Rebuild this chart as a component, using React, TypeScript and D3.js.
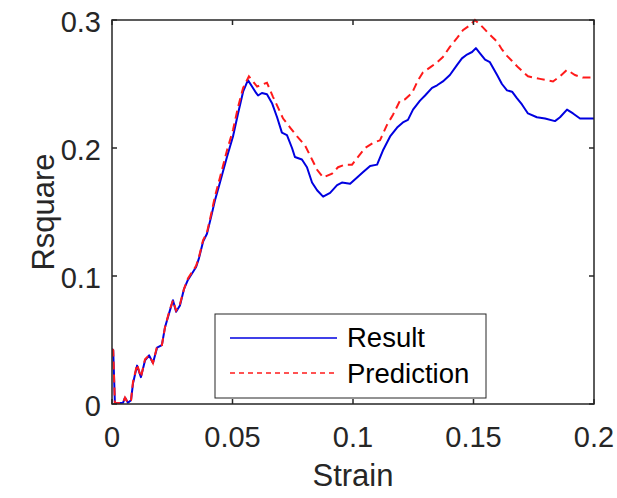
import React from "react";
import * as d3 from "d3";

const xTicks = [0, 0.05, 0.1, 0.15, 0.2];
const yTicks = [0, 0.1, 0.2, 0.3];
const xTickLabels = ["0", "0.05", "0.1", "0.15", "0.2"];
const yTickLabels = ["0", "0.1", "0.2", "0.3"];
const seriesNames = ["Result", "Prediction"];

const resultStrain = [
  0, 0.0005, 0.0012, 0.0046, 0.0054, 0.0066, 0.0079, 0.0087, 0.0104, 0.012, 0.0137, 0.0154, 0.017, 0.0187,
  0.0207, 0.022, 0.0237, 0.0253, 0.0266, 0.0282, 0.0299, 0.0315, 0.0332, 0.0349, 0.0361, 0.0378, 0.0394,
  0.0411, 0.0427, 0.0448, 0.0477, 0.0502, 0.0523, 0.0544, 0.0564, 0.0581, 0.0598, 0.0606, 0.0622, 0.0643,
  0.0664, 0.0685, 0.0705, 0.0726, 0.0747, 0.0759, 0.0788, 0.0809, 0.083, 0.0851, 0.0876, 0.0905, 0.0934,
  0.0954, 0.0988, 0.1017, 0.1041, 0.1071, 0.11, 0.1124, 0.1154, 0.1183, 0.1207, 0.1228, 0.1249, 0.1278,
  0.1299, 0.1328, 0.1349, 0.1373, 0.1402, 0.1432, 0.1452, 0.1473, 0.1494, 0.151, 0.1527, 0.1548, 0.1568,
  0.1598, 0.1618, 0.1639, 0.166, 0.168, 0.1701, 0.1726, 0.1763, 0.1797, 0.1838, 0.1859, 0.1888, 0.1913,
  0.1942, 0.1975, 0.2,
];
const resultValues = [
  0.043, 0.042, 0.0005, 0.001, 0.005, 0.001, 0.003, 0.016, 0.03, 0.021, 0.034, 0.038, 0.032, 0.044,
  0.046, 0.06, 0.071, 0.081, 0.072, 0.077, 0.09, 0.097, 0.102, 0.107, 0.114, 0.127, 0.133,
  0.146, 0.159, 0.173, 0.193, 0.209, 0.227, 0.244, 0.253, 0.248, 0.243, 0.241, 0.243, 0.242,
  0.235, 0.224, 0.212, 0.21, 0.2, 0.193, 0.191, 0.185, 0.173, 0.167, 0.162, 0.165, 0.171,
  0.173, 0.172, 0.177, 0.181, 0.186, 0.187, 0.198, 0.209, 0.216, 0.22, 0.222, 0.23, 0.237,
  0.241, 0.247, 0.249, 0.252, 0.257, 0.265, 0.27, 0.273, 0.275, 0.278, 0.274, 0.269, 0.267,
  0.257, 0.25, 0.245, 0.244, 0.239, 0.234, 0.227, 0.224, 0.223, 0.221, 0.224, 0.23, 0.227,
  0.223, 0.223, 0.223,
];

const predStrain = [
  0, 0.0005, 0.0012, 0.0046, 0.0054, 0.0066, 0.0079, 0.0087, 0.0104, 0.012, 0.0137, 0.0154, 0.017, 0.0187,
  0.0207, 0.022, 0.0237, 0.0253, 0.0266, 0.0282, 0.0299, 0.0315, 0.0332, 0.0349, 0.0361, 0.0378, 0.0394,
  0.0411, 0.0427, 0.0448, 0.0477, 0.0502, 0.0523, 0.0544, 0.0568, 0.0602, 0.0643, 0.0668, 0.071, 0.0739,
  0.0768, 0.0801, 0.083, 0.0851, 0.0876, 0.0913, 0.0938, 0.0967, 0.0996, 0.1021, 0.105, 0.1083, 0.1112,
  0.1141, 0.1166, 0.1195, 0.1216, 0.1245, 0.127, 0.129, 0.132, 0.1349, 0.1373, 0.1402, 0.1432, 0.1456,
  0.1486, 0.1506, 0.1535, 0.156, 0.1598, 0.1618, 0.1639, 0.166, 0.1685, 0.1726, 0.1776, 0.183, 0.1859,
  0.1888, 0.1921, 0.1954, 0.2,
];
const predValues = [
  0.043, 0.042, 0.0005, 0.001, 0.005, 0.001, 0.003, 0.017, 0.031, 0.021, 0.035, 0.038, 0.032, 0.045,
  0.046, 0.06, 0.072, 0.081, 0.073, 0.078, 0.09, 0.098, 0.103, 0.108, 0.115, 0.128, 0.134,
  0.148, 0.162, 0.177, 0.198, 0.214, 0.232, 0.247, 0.256, 0.248, 0.251, 0.24, 0.223, 0.216,
  0.209, 0.202, 0.191, 0.183, 0.177, 0.18, 0.185, 0.187, 0.187, 0.193, 0.2, 0.204, 0.206,
  0.218, 0.226, 0.237, 0.238, 0.243, 0.253, 0.259, 0.263, 0.267, 0.271, 0.279, 0.286, 0.292,
  0.296, 0.3, 0.295, 0.29, 0.283, 0.277, 0.272, 0.268, 0.263, 0.256, 0.254, 0.252, 0.256,
  0.261, 0.257, 0.255, 0.255,
];

const W = 617;
const H = 498;
const L = 112, R = 594, T = 20, B = 404;
const FONT = "'Liberation Sans', Arial, sans-serif";
const AXIS = "#262626";
const BLUE = "#0000e0";
const RED = "#ff1a1a";

export default function App() {
  const x = d3.scaleLinear().domain([0, 0.2]).range([L, R]);
  const y = d3.scaleLinear().domain([0, 0.3]).range([B, T]);
  const line = d3.line<[number, number]>().x((d) => x(d[0])).y((d) => y(d[1]));
  const resPts = resultStrain.map((s, i) => [s, resultValues[i]] as [number, number]);
  const predPts = predStrain.map((s, i) => [s, predValues[i]] as [number, number]);
  const tl = 5;
  return (
    <svg width={W} height={H} style={{ position: "absolute", left: 0, top: 0, background: "#fff" }}>
      <defs>
        <clipPath id="plotclip">
          <rect x={L} y={T - 2} width={R - L} height={B - T + 2} />
        </clipPath>
      </defs>
      <rect x={0} y={0} width={W} height={H} fill="#fff" />
      <g clipPath="url(#plotclip)">
        <path d={line(resPts) || ""} fill="none" stroke={BLUE} strokeWidth={2} strokeLinejoin="round" />
        <path d={line(predPts) || ""} fill="none" stroke={RED} strokeWidth={2} strokeDasharray="8,5" />
      </g>
      {/* axes box */}
      <rect x={L} y={T} width={R - L} height={B - T} fill="none" stroke={AXIS} strokeWidth={1.5} />
      {xTicks.map((t, i) => (
        <g key={"xt" + i}>
          <line x1={x(t)} x2={x(t)} y1={B} y2={B - tl} stroke={AXIS} strokeWidth={1.5} />
          <line x1={x(t)} x2={x(t)} y1={T} y2={T + tl} stroke={AXIS} strokeWidth={1.5} />
          <text x={x(t)} y={447} textAnchor="middle" fontFamily={FONT} fontSize={29} fill={AXIS}>
            {xTickLabels[i]}
          </text>
        </g>
      ))}
      {yTicks.map((t, i) => (
        <g key={"yt" + i}>
          <line x1={L} x2={L + tl} y1={y(t)} y2={y(t)} stroke={AXIS} strokeWidth={1.5} />
          <line x1={R} x2={R - tl} y1={y(t)} y2={y(t)} stroke={AXIS} strokeWidth={1.5} />
          <text x={101} y={y(t) + 12} textAnchor="end" fontFamily={FONT} fontSize={29} fill={AXIS}>
            {yTickLabels[i]}
          </text>
        </g>
      ))}
      <text x={(L + R) / 2} y={486} textAnchor="middle" fontFamily={FONT} fontSize={31} fill={AXIS}>
        Strain
      </text>
      <text
        transform={`translate(54, ${(T + B) / 2}) rotate(-90)`}
        textAnchor="middle"
        fontFamily={FONT}
        fontSize={31}
        fill={AXIS}
      >
        Rsquare
      </text>
      {/* legend */}
      <rect x={215} y={314} width={271} height={84} fill="#fff" stroke={AXIS} strokeWidth={1} />
      <line x1={230} x2={337} y1={338} y2={338} stroke={BLUE} strokeWidth={1.5} />
      <line x1={230} x2={337} y1={373} y2={373} stroke={RED} strokeWidth={1.5} strokeDasharray="5,4" />
      <text x={347} y={347} fontFamily={FONT} fontSize={27.5} fill="#000">
        {seriesNames[0]}
      </text>
      <text x={347} y={383} fontFamily={FONT} fontSize={27.5} fill="#000">
        {seriesNames[1]}
      </text>
    </svg>
  );
}
